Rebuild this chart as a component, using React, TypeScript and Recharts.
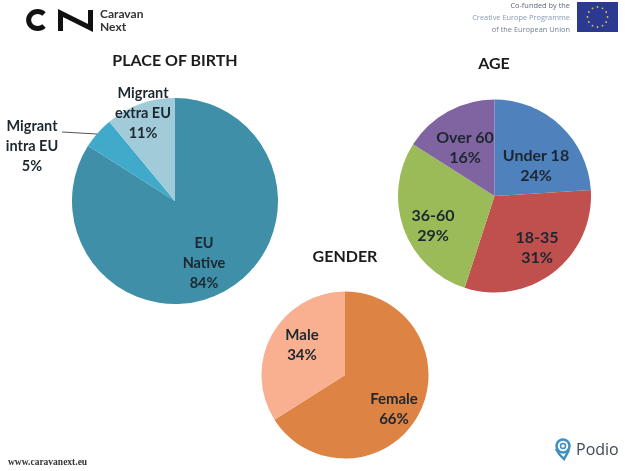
import { PieChart, Pie, Cell } from "recharts";

const birthNames = ["EU\nNative", "Migrant\nintra EU", "Migrant\nextra EU"];
const birthValues = [84, 5, 11];
const ageNames = ["Under 18", "18-35", "36-60", "Over 60"];
const ageValues = [24, 31, 29, 16];
const genderNames = ["Female", "Male"];
const genderValues = [66, 34];

const birthColors = ["#3f8fa9", "#41a9c9", "#a2cbda"];
const ageColors = ["#4f81bd", "#c0504d", "#9bbb59", "#8064a2"];
const genderColors = ["#dd8344", "#f8b090"];

const birthData = birthNames.map((name, i) => ({ name, value: birthValues[i] }));
const ageData = ageNames.map((name, i) => ({ name, value: ageValues[i] }));
const genderData = genderNames.map((name, i) => ({ name, value: genderValues[i] }));

const font = "Lato, 'Open Sans', sans-serif";

// label centres, slice order
const birthLabels = [[204, 263], [32, 146], [143, 113]];
const ageLabels = [[536, 165], [537, 247], [433, 225], [465, 147]];
const genderLabels = [[394, 408], [302, 344]];

const flagStars = [0, 1, 2, 3, 4, 5, 6, 7, 8, 9, 10, 11];

function sliceLabels(data: { name: string; value: number }[], spots: number[][], size: number) {
  return data.map((d, i) => {
    const lines = [...d.name.split("\n"), `${d.value}%`];
    return (
      <div
        key={d.name}
        style={{
          position: "absolute",
          left: spots[i][0] - 60,
          top: spots[i][1] - (lines.length * 20) / 2,
          width: 120,
          textAlign: "center",
          fontFamily: font,
          fontWeight: 700,
          fontSize: size,
          lineHeight: "20px",
          color: "#1c2730",
          whiteSpace: "nowrap",
        }}
      >
        {lines.map((l) => (
          <div key={l}>{l}</div>
        ))}
      </div>
    );
  });
}

function title(text: string, x: number, y: number) {
  return (
    <div
      style={{
        position: "absolute",
        left: x - 100,
        top: y - 11,
        width: 200,
        textAlign: "center",
        fontFamily: font,
        fontWeight: 700,
        fontSize: 16,
        lineHeight: "22px",
        color: "#1c1c1c",
      }}
    >
      {text}
    </div>
  );
}

function small(text: string, right: number, y: number, color: string) {
  return (
    <div
      style={{
        position: "absolute",
        right: 625 - right,
        top: y - 5,
        fontFamily: "'Open Sans', sans-serif",
        fontSize: 7.4,
        lineHeight: "10px",
        color,
        whiteSpace: "nowrap",
      }}
    >
      {text}
    </div>
  );
}

export default function App() {
  return (
    <div
      style={{
        position: "fixed",
        left: 0,
        top: 0,
        width: 625,
        height: 471,
        background: "#fff",
        overflow: "hidden",
        filter: "blur(0.5px)",
      }}
    >
      <PieChart width={625} height={471} margin={{ top: 0, right: 0, bottom: 0, left: 0 }}>
        <Pie
          data={birthData}
          dataKey="value"
          cx={175}
          cy={201}
          outerRadius={103}
          startAngle={90}
          endAngle={-270}
          stroke="none"
          isAnimationActive={false}
        >
          {birthData.map((d, i) => (
            <Cell key={d.name} fill={birthColors[i]} />
          ))}
        </Pie>
        <Pie
          data={ageData}
          dataKey="value"
          cx={494.5}
          cy={196}
          outerRadius={96.5}
          startAngle={90}
          endAngle={-270}
          stroke="none"
          isAnimationActive={false}
        >
          {ageData.map((d, i) => (
            <Cell key={d.name} fill={ageColors[i]} />
          ))}
        </Pie>
        <Pie
          data={genderData}
          dataKey="value"
          cx={345}
          cy={375}
          outerRadius={83.5}
          startAngle={90}
          endAngle={-270}
          stroke="none"
          isAnimationActive={false}
        >
          {genderData.map((d, i) => (
            <Cell key={d.name} fill={genderColors[i]} />
          ))}
        </Pie>
      </PieChart>

      {title("PLACE OF BIRTH", 175, 60)}
      {title("AGE", 494, 63)}
      {title("GENDER", 345, 256)}
      {sliceLabels(birthData, birthLabels, 14.5)}
      {sliceLabels(ageData, ageLabels, 16)}
      {sliceLabels(genderData, genderLabels, 15)}

      <svg width={625} height={471} style={{ position: "absolute", left: 0, top: 0 }}>
        {/* leader line, logo, flag, podio mark */}
        <line x1={62} y1={132} x2={97} y2={134} stroke="#555" strokeWidth={1} />
        <path d="M44 14 A9 8.5 0 1 0 44 26" fill="none" stroke="#111" strokeWidth={5} />
        <path d="M60.5 31 V13 L90.5 28 V10" fill="none" stroke="#111" strokeWidth={5} />
        <rect x={577} y={2} width={41} height={30} fill="#2b3990" />
        {flagStars.map((k) => (
          <circle
            key={k}
            cx={597.5 + 10 * Math.cos((k * Math.PI) / 6)}
            cy={17 + 10 * Math.sin((k * Math.PI) / 6)}
            r={0.9}
            fill="#d8c94a"
          />
        ))}
        <circle cx={563} cy={446} r={6.5} fill="none" stroke="#3f8fc0" strokeWidth={2.5} />
        <path d="M556 449 Q559 455 564 459 L569 450" fill="none" stroke="#3f8fc0" strokeWidth={2.5} />
        <circle cx={563} cy={446} r={2.5} fill="none" stroke="#3f8fc0" strokeWidth={1.5} />
      </svg>

      <div style={{ position: "absolute", left: 100, top: 7, fontFamily: "Lato, sans-serif", fontWeight: 700, fontSize: 12, lineHeight: "13px", color: "#333" }}>
        Caravan
        <br />
        Next
      </div>
      {small("Co-funded by the", 570, 5, "#5a6a80")}
      {small("Creative Europe Programme", 570, 17, "#8a9ab0")}
      {small("of the European Union", 570, 29, "#6f7f96")}
      <div style={{ position: "absolute", left: 8, top: 456, fontFamily: "'Liberation Serif', serif", fontWeight: 700, fontSize: 9.5, lineHeight: "12px", color: "#333" }}>
        www.caravanext.eu
      </div>
      <div style={{ position: "absolute", left: 576, top: 437, fontFamily: "'Open Sans', sans-serif", fontSize: 16, lineHeight: "24px", color: "#3d4a55" }}>
        Podio
      </div>
    </div>
  );
}
